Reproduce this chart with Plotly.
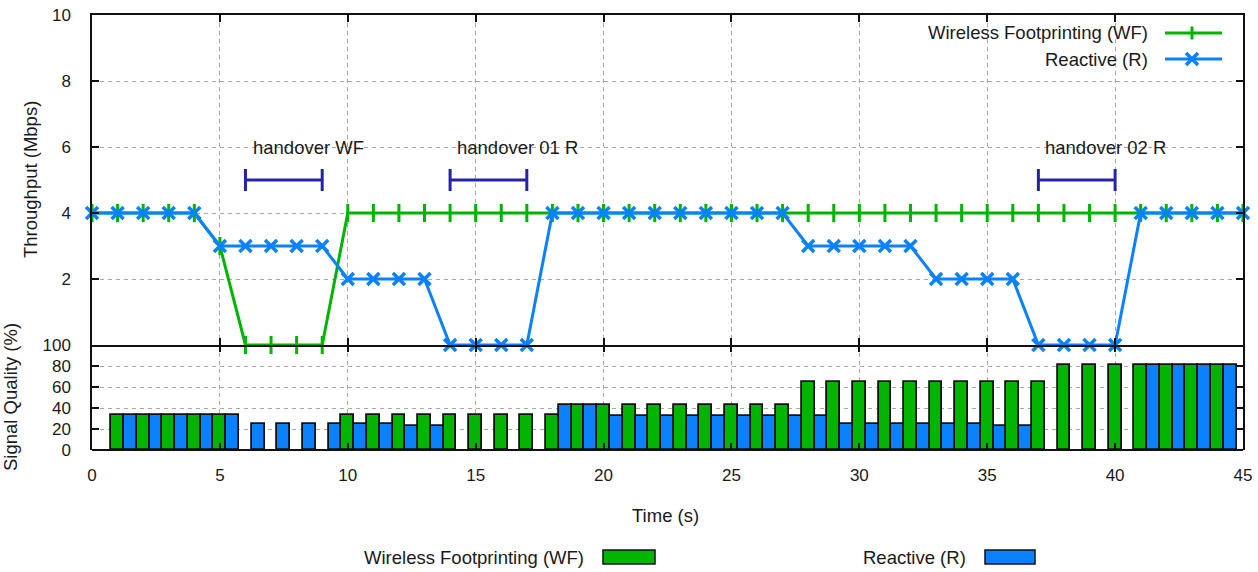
import plotly.graph_objects as go

# ---------------- data ----------------
time_s = list(range(0, 46))
wf_throughput = [4, 4, 4, 4, 4, 3, 0, 0, 0, 0] + [4] * 36
r_throughput = ([4, 4, 4, 4, 4] + [3, 3, 3, 3, 3] + [2, 2, 2, 2] + [0, 0, 0, 0]
                + [4] * 10 + [3, 3, 3, 3, 3] + [2, 2, 2, 2] + [0, 0, 0, 0] + [4] * 5)

bar_time = list(range(1, 45))
wf_signal = ([33] * 5 + [None] * 4 + [33] * 9 + [43] * 9 + [65] * 10 + [81] * 7)
r_signal = ([33] * 5 + [25] * 6 + [23] * 2 + [None] * 4 + [43] * 2 + [32] * 9
            + [25] * 6 + [23] * 2 + [None] * 4 + [81] * 4)

handover_labels = ["handover WF", "handover 01 R", "handover 02 R"]
handover_start = [6, 14, 37]
handover_end = [9, 17, 40]
handover_level = 5
handover_label_level = 6

x_ticks = [0, 5, 10, 15, 20, 25, 30, 35, 40, 45]
top_y_ticks = [0, 2, 4, 6, 8, 10]
bottom_y_ticks = [0, 20, 40, 60, 80, 100]

# ---------------- style ----------------
GREEN = "#00b400"
BLUE = "#0a82ff"
DARKBLUE = "#2424a8"
FONT = "Liberation Sans"
FS = 17      # tick labels
FT = 18.5    # other texts
TXT = "#1a1a1a"
AX = "#111111"

L, R, T, B = 92, 15, 15, 122
W, H = 1258, 572
PW = W - L - R
PH = H - T - B
split = 105 / PH  # bottom panel height fraction


def px_x(px):
    return (px - L) / PW


def px_y(py):
    return (H - B - py) / PH


def tfont(size=FT):
    return dict(family=FONT, size=size, color=TXT)


fig = go.Figure()

# top panel lines
fig.add_trace(go.Scatter(
    x=time_s, y=wf_throughput, mode="lines+markers", name="Wireless Footprinting (WF)",
    line=dict(color=GREEN, width=3),
    marker=dict(symbol="line-ns", size=13, line=dict(color=GREEN, width=3)),
    cliponaxis=False, xaxis="x", yaxis="y", showlegend=False))
fig.add_trace(go.Scatter(
    x=time_s, y=r_throughput, mode="lines+markers", name="Reactive (R)",
    line=dict(color=BLUE, width=3),
    marker=dict(symbol="x-thin", size=12, line=dict(color=BLUE, width=3.5)),
    cliponaxis=False, xaxis="x", yaxis="y", showlegend=False))

# handover intervals
centers = [(s + e) / 2 for s, e in zip(handover_start, handover_end)]
halfs = [(e - s) / 2 for s, e in zip(handover_start, handover_end)]
fig.add_trace(go.Scatter(
    x=centers, y=[handover_level] * len(centers), mode="markers",
    marker=dict(size=1, opacity=0),
    error_x=dict(type="data", array=halfs, symmetric=True, color=DARKBLUE,
                 thickness=3, width=11),
    xaxis="x", yaxis="y", showlegend=False, hoverinfo="skip"))

for lab, s in zip(handover_labels, handover_start):
    fig.add_annotation(x=s + 0.2, y=handover_label_level, xref="x", yref="y",
                       text=lab, showarrow=False, xanchor="left", yanchor="middle",
                       font=tfont())

# bottom panel bars
fig.add_trace(go.Bar(
    x=bar_time, y=wf_signal, width=0.5, offset=-0.25, name="Wireless Footprinting (WF)",
    marker=dict(color=GREEN, line=dict(color=AX, width=1.8)),
    xaxis="x2", yaxis="y2", showlegend=False))
fig.add_trace(go.Bar(
    x=bar_time, y=r_signal, width=0.5, offset=0.25, name="Reactive (R)",
    marker=dict(color=BLUE, line=dict(color=AX, width=1.8)),
    xaxis="x2", yaxis="y2", showlegend=False))

grid = dict(showgrid=True, gridcolor="#a8a8a8", gridwidth=1, griddash="4px,4px")
tick_common = dict(ticks="inside", ticklen=7, tickcolor=AX, tickwidth=1.5,
                   zeroline=False, automargin=False, tickfont=tfont(FS))
line_on = dict(showline=True, linecolor=AX, linewidth=1.5, mirror="ticks")

fig.update_layout(
    width=W, height=H, margin=dict(l=L, r=R, t=T, b=B, autoexpand=False),
    paper_bgcolor="white", plot_bgcolor="white",
    barmode="overlay", bargap=0,
    xaxis=dict(domain=[0, 1], anchor="y", range=[0, 45], tickvals=x_ticks,
               showticklabels=False, matches="x2", **grid, **tick_common, **line_on),
    yaxis=dict(domain=[split, 1], anchor="x", range=[0, 10], tickvals=top_y_ticks,
               ticktext=[""] + [str(v) for v in top_y_ticks[1:]],
               ticklabelstandoff=16, **grid, **tick_common, **line_on),
    xaxis2=dict(domain=[0, 1], anchor="y2", range=[0, 45], tickvals=x_ticks,
                showline=False, mirror="ticks",
                ticklabelstandoff=13, **grid, **tick_common),
    yaxis2=dict(domain=[0, split], anchor="x2", range=[0, 100], tickvals=bottom_y_ticks,
                ticklabelstandoff=16, **grid, **tick_common, **line_on),
    showlegend=False,
)

# bottom border of the lower panel
fig.add_shape(type="line", xref="paper", yref="paper", x0=0, x1=1, y0=0, y1=0,
              line=dict(color=AX, width=2), layer="above")

# axis titles
fig.add_annotation(x=px_x(30), y=px_y(180), xref="paper", yref="paper", text="Throughput (Mbps)",
                   textangle=-90, showarrow=False, xanchor="center", yanchor="middle",
                   font=tfont())
fig.add_annotation(x=px_x(10), y=px_y(397), xref="paper", yref="paper", text="Signal Quality (%)",
                   textangle=-90, showarrow=False, xanchor="center", yanchor="middle",
                   font=tfont())
fig.add_annotation(x=px_x(665), y=px_y(515), xref="paper", yref="paper", text="Time (s)",
                   showarrow=False, xanchor="center", yanchor="middle", font=tfont())

# top legend (text left, sample right)
top_leg = [("Wireless Footprinting (WF)", GREEN, "plus", 33), ("Reactive (R)", BLUE, "x", 59)]
for name, col, sym, py in top_leg:
    fig.add_annotation(x=px_x(1150), y=px_y(py), xref="paper", yref="paper", text=name,
                       xanchor="right", yanchor="middle", showarrow=False, font=tfont())
    fig.add_shape(type="line", xref="paper", yref="paper", x0=px_x(1165), x1=px_x(1222),
                  y0=px_y(py), y1=px_y(py), line=dict(color=col, width=3))
    if sym == "plus":
        fig.add_shape(type="line", xref="paper", yref="paper", x0=px_x(1192), x1=px_x(1192),
                      y0=px_y(py - 6.5), y1=px_y(py + 6.5), line=dict(color=col, width=3))
    else:
        fig.add_shape(type="line", xref="paper", yref="paper", x0=px_x(1186), x1=px_x(1198),
                      y0=px_y(py - 6), y1=px_y(py + 6), line=dict(color=col, width=3.5))
        fig.add_shape(type="line", xref="paper", yref="paper", x0=px_x(1186), x1=px_x(1198),
                      y0=px_y(py + 6), y1=px_y(py - 6), line=dict(color=col, width=3.5))

# bottom legend
bot_leg = [("Wireless Footprinting (WF)", GREEN, 586, 603, 655), ("Reactive (R)", BLUE, 968, 985, 1035)]
for name, col, tx, bx0, bx1 in bot_leg:
    fig.add_annotation(x=px_x(tx), y=px_y(557), xref="paper", yref="paper", text=name,
                       xanchor="right", yanchor="middle", showarrow=False, font=tfont())
    fig.add_shape(type="rect", xref="paper", yref="paper", x0=px_x(bx0), x1=px_x(bx1),
                  y0=px_y(550), y1=px_y(564), fillcolor=col, line=dict(color=AX, width=1.5))

fig.write_html("out.html", config={"displayModeBar": False},
               post_script="document.body.style.margin='0';")
